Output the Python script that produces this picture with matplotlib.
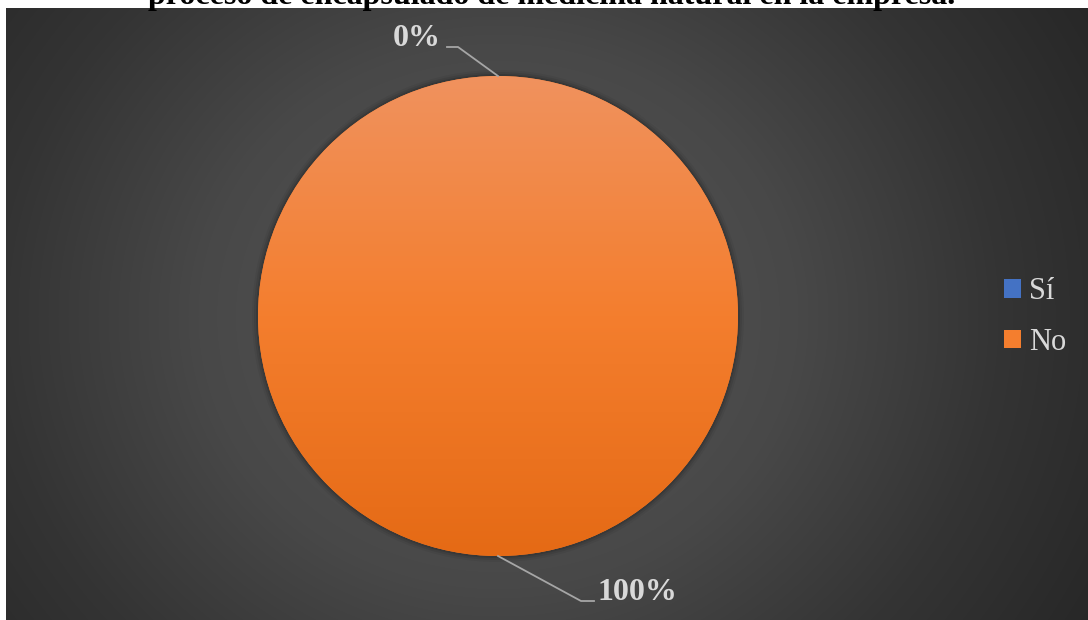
import numpy as np
import matplotlib
matplotlib.use("Agg")
import matplotlib.pyplot as plt
from matplotlib.colors import LinearSegmentedColormap

# Respuestas de la encuesta
categorias = ["Sí", "No"]
valores = [0, 100]
colores = ["#4472C4", "#F47E2E"]
titulo = "proceso de encapsulado de medicina natural en la empresa."

W, H = 1088, 620
fig = plt.figure(figsize=(W / 100, H / 100), dpi=100)
fig.patch.set_facecolor("white")

# Fondo oscuro con degradado radial
bg = fig.add_axes([6 / W, 0, 1 - 6 / W, (H - 8) / H])
bg.set_axis_off()
xx, yy = np.meshgrid(np.arange(6, W), np.arange(8, H))
d = np.hypot(xx - 498, (yy - 316) * 1.1)
g = np.interp(d, [0, 300, 500, 700], [88, 72, 52, 38]) / 255
bg.imshow(np.dstack([g, g, g]), aspect="auto", interpolation="bilinear")

ax = fig.add_axes([0, 0, 1, 1])
ax.set_xlim(0, W)
ax.set_ylim(0, H)
ax.set_axis_off()

cx, cy, r = 498, H - 316, 240

# Sombra suave alrededor del círculo
for k, a in [(6, 0.05), (4, 0.08), (2, 0.12)]:
    ax.add_patch(plt.Circle((cx, cy), r + k, color="black", alpha=a, lw=0))

wedges, _ = ax.pie(valores, colors=colores, startangle=90, counterclock=False,
                   center=(cx, cy), radius=r, frame=True,
                   wedgeprops=dict(linewidth=0))
ax.set_xlim(0, W)
ax.set_ylim(0, H)
ax.set_aspect("auto")
ax.set_axis_off()

# Degradado vertical del naranja
naranja = LinearSegmentedColormap.from_list("nar", ["#E56A15", "#F47E2E", "#F0925E"])
grad = np.linspace(0, 1, 256).reshape(-1, 1)
for w, v in zip(wedges, valores):
    if v > 0 and w.get_facecolor()[0] > 0.8:
        im = ax.imshow(grad, cmap=naranja, origin="lower", aspect="auto",
                       extent=(cx - r, cx + r, cy - r, cy + r), zorder=w.get_zorder())
        im.set_clip_path(w)

# Etiquetas de porcentaje con líneas guía
total = sum(valores)
for w, v in zip(wedges, valores):
    ang = np.deg2rad((w.theta1 + w.theta2) / 2)
    px, py = cx + r * np.cos(ang), cy + r * np.sin(ang)
    txt = f"{v / total * 100:.0f}%"
    if py > cy:
        qx, qy = px - 40, py + 29
        ex = qx - 11
        ha, tx = "right", ex - 6
    else:
        qx, qy = px + 83, py - 45
        ex = qx + 13
        ha, tx = "left", ex + 3
    ax.plot([px, qx, ex], [py, qy, qy], color="#A6A6A6", lw=1.3, zorder=5)
    ax.text(tx, qy + 8, txt, ha=ha, va="center", fontsize=23, fontweight="bold",
            family="Liberation Serif", color="#D9D9D9", zorder=6)

leg = ax.legend(wedges, categorias, loc="center left", bbox_to_anchor=(992 / W, (H - 317) / H),
                frameon=False, handlelength=0.56, handleheight=0.56,
                handletextpad=0.25, labelspacing=0.7, borderaxespad=0,
                prop=dict(family="Liberation Serif", size=22))
for t in leg.get_texts():
    t.set_color("#D9D9D9")

fig.text(0.5 * (148 + 955) / W, 1 - 4 / H, titulo, ha="center", va="baseline",
         fontsize=23, fontweight="bold", family="Liberation Serif", color="black")

fig.savefig("out.png", dpi=100, facecolor=fig.get_facecolor())
